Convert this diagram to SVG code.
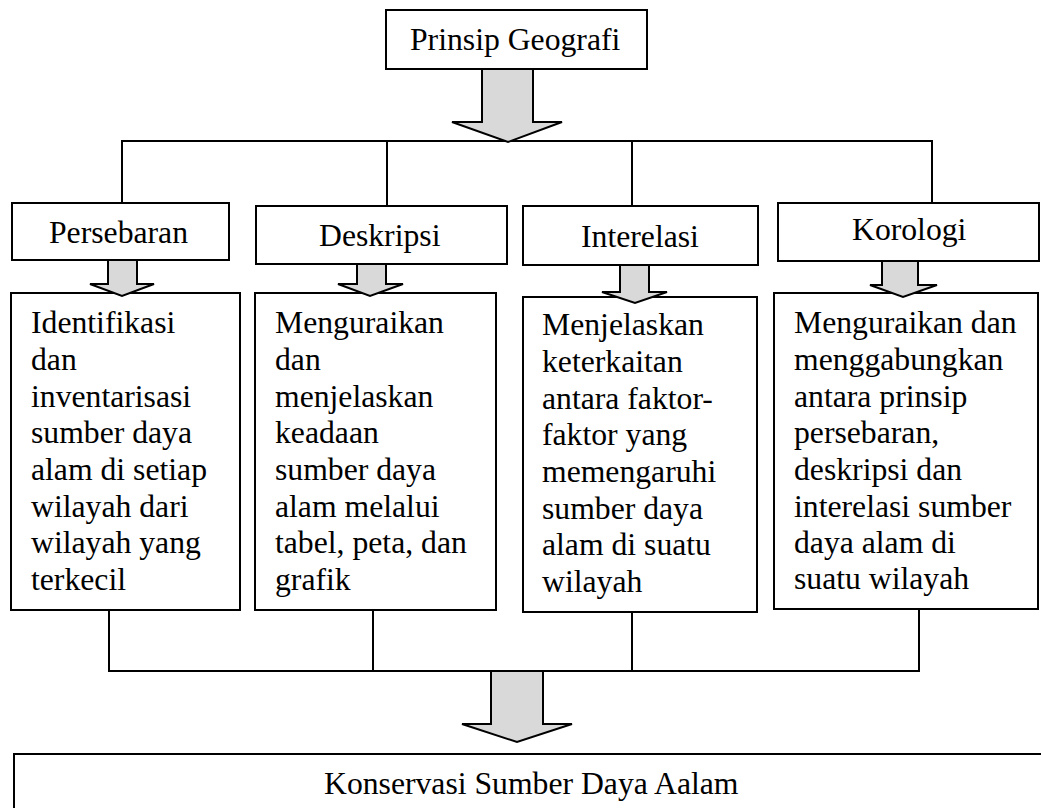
<svg xmlns="http://www.w3.org/2000/svg" width="1041" height="808" viewBox="0 0 1041 808">
<style>
.box{fill:#fff;stroke:#000;stroke-width:2}
.ln{fill:none;stroke:#000;stroke-width:2}
.arr{fill:#d9d9d9;stroke:#000;stroke-width:2;stroke-linejoin:miter}
</style>
<rect width="1041" height="808" fill="#fff"/>
<g id="connectors">
<polyline class="ln" points="122,203 122,141 932,141 932,203"/>
<line class="ln" x1="387" y1="141" x2="387" y2="206"/>
<line class="ln" x1="632" y1="141" x2="632" y2="206"/>
<polyline class="ln" points="109,610 109,671 919,671 919,609"/>
<line class="ln" x1="373" y1="610" x2="373" y2="671"/>
<line class="ln" x1="632" y1="610" x2="632" y2="671"/>
</g>
<g font-family="Liberation Serif, serif" font-size="31.7" fill="#000">
<g id="n-prinsip">
<rect class="box" x="386" y="10" width="261" height="59"/>
<text x="410" y="50">Prinsip Geografi</text>
</g>
<g id="a-top">
<polygon class="arr" points="482,69 533,69 533,122 562,122 508,142 452,122 482,122"/>
</g>
<g id="n-persebaran">
<rect class="box" x="12" y="203" width="217" height="57"/>
<text x="49" y="243">Persebaran</text>
</g>
<g id="n-deskripsi">
<rect class="box" x="256" y="206" width="251" height="58"/>
<text x="319" y="246">Deskripsi</text>
</g>
<g id="n-interelasi">
<rect class="box" x="523" y="206" width="235" height="59"/>
<text x="581" y="247">Interelasi</text>
</g>
<g id="n-korologi">
<rect class="box" x="778" y="203" width="261" height="58"/>
<text x="852" y="240">Korologi</text>
</g>
<g id="n-identifikasi">
<rect class="box" x="11" y="293" width="229" height="317"/>
<text x="31" y="333">Identifikasi</text>
<text x="31" y="370">dan</text>
<text x="31" y="406.5">inventarisasi</text>
<text x="31" y="443">sumber daya</text>
<text x="31" y="480">alam di setiap</text>
<text x="31" y="516.5">wilayah dari</text>
<text x="31" y="553">wilayah yang</text>
<text x="31" y="590">terkecil</text>
</g>
<g id="n-menguraikan">
<rect class="box" x="255" y="293" width="241" height="317"/>
<text x="275" y="333">Menguraikan</text>
<text x="275" y="370">dan</text>
<text x="275" y="406.5">menjelaskan</text>
<text x="275" y="443">keadaan</text>
<text x="275" y="480">sumber daya</text>
<text x="275" y="516.5">alam melalui</text>
<text x="275" y="553">tabel, peta, dan</text>
<text x="275" y="590">grafik</text>
</g>
<g id="n-menjelaskan">
<rect class="box" x="523" y="297" width="234" height="315"/>
<text x="542" y="335">Menjelaskan</text>
<text x="542" y="372">keterkaitan</text>
<text x="542" y="408.5">antara faktor-</text>
<text x="542" y="445">faktor yang</text>
<text x="542" y="482">memengaruhi</text>
<text x="542" y="518.5">sumber daya</text>
<text x="542" y="555">alam di suatu</text>
<text x="542" y="592">wilayah</text>
</g>
<g id="n-menggabungkan">
<rect class="box" x="774" y="293" width="264" height="316"/>
<text x="794" y="333">Menguraikan dan</text>
<text x="794" y="370">menggabungkan</text>
<text x="794" y="406.5">antara prinsip</text>
<text x="794" y="443">persebaran,</text>
<text x="794" y="480">deskripsi dan</text>
<text x="794" y="516.5">interelasi sumber</text>
<text x="794" y="553">daya alam di</text>
<text x="794" y="589">suatu wilayah</text>
</g>
<g id="a-small">
<polygon class="arr" points="108,260 137,260 137,284 154,284 122,296 90,284 108,284"/>
<polygon class="arr" points="357,264 386,264 386,284 403,284 370,296 338,284 357,284"/>
<polygon class="arr" points="620,265 649,265 649,292 667,292 635,303 602,292 620,292"/>
<polygon class="arr" points="882,261 918,261 918,285 937,285 903,297 870,285 882,285"/>
</g>
<g id="a-bottom">
<polygon class="arr" points="491,671 543,671 543,724 572,724 517,742 462,724 491,724"/>
</g>
<g id="n-konservasi">
<rect class="box" x="14" y="754" width="1040" height="70"/>
<text x="324" y="794">Konservasi Sumber Daya Aalam</text>
</g>
</g>
</svg>
